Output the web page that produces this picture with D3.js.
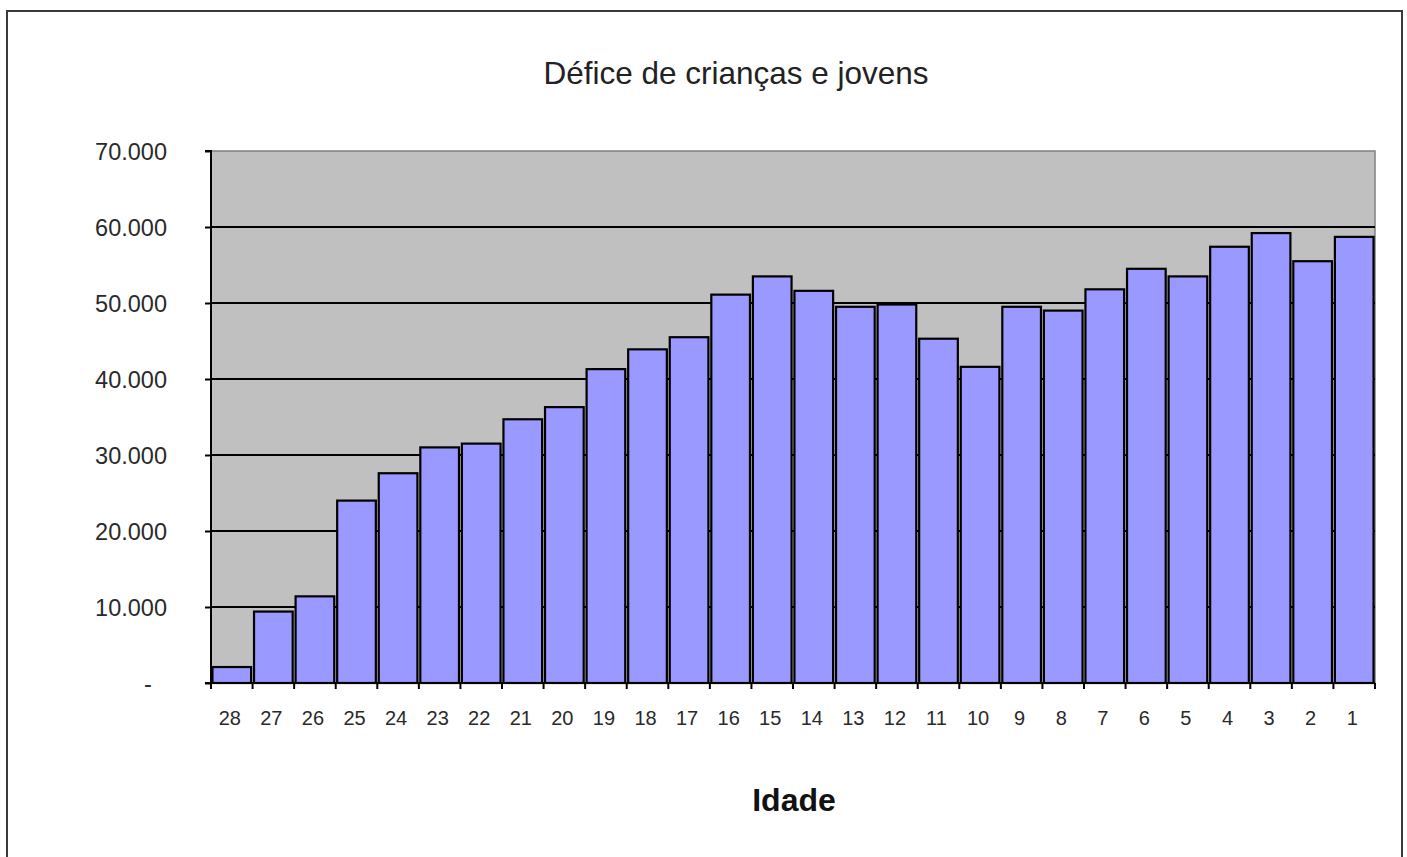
<!DOCTYPE html>
<html>
<head>
<meta charset="utf-8">
<script src="https://cdn.jsdelivr.net/npm/d3@7"></script>
<style>
  html, body { margin: 0; padding: 0; background: #fff; }
  svg { display: block; }
  text { font-family: "Liberation Sans", Arial, sans-serif; }
</style>
</head>
<body>
<svg id="chart" width="1407" height="857"></svg>
<script>
const title = "Défice de crianças e jovens";
const xTitle = "Idade";
const categories = ["28","27","26","25","24","23","22","21","20","19","18","17","16","15","14","13","12","11","10","9","8","7","6","5","4","3","2","1"];
const values = [2100, 9400, 11400, 24000, 27600, 31000, 31500, 34700, 36300, 41300, 43900, 45500, 51100, 53500, 51600, 49500, 49800, 45300, 41600, 49500, 49000, 51800, 54500, 53500, 57400, 59200, 55500, 58700];
const yTicks = [0, 10000, 20000, 30000, 40000, 50000, 60000, 70000];
const yTickLabels = ["-", "10.000", "20.000", "30.000", "40.000", "50.000", "60.000", "70.000"];

const svg = d3.select("#chart");
const plot = { left: 211, right: 1375, top: 151, bottom: 683 };

// outer frame
svg.append("rect")
  .attr("x", 7).attr("y", 11).attr("width", 1395).attr("height", 870)
  .attr("fill", "#fff").attr("stroke", "#3a3a3a").attr("stroke-width", 2);

const x = d3.scaleBand().domain(categories).range([plot.left, plot.right]).paddingInner(0.07).paddingOuter(0.035);
const xb = d3.scaleBand().domain(categories).range([plot.left, plot.right]).padding(0);
const y = d3.scaleLinear().domain([0, 70000]).range([plot.bottom, plot.top]);

// plot background
svg.append("rect")
  .attr("x", plot.left).attr("y", plot.top)
  .attr("width", plot.right - plot.left).attr("height", plot.bottom - plot.top)
  .attr("fill", "#c0c0c0");

// top/right border
svg.append("path")
  .attr("d", `M${plot.left},${y(70000)}H${plot.right}V${plot.bottom}`)
  .attr("fill", "none").attr("stroke", "#808080").attr("stroke-width", 1.5);

// gridlines
svg.append("g").selectAll("line")
  .data(yTicks.filter(t => t > 0 && t < 70000))
  .join("line")
  .attr("x1", plot.left).attr("x2", plot.right)
  .attr("y1", d => y(d)).attr("y2", d => y(d))
  .attr("stroke", "#000").attr("stroke-width", 2);

// bars
svg.append("g").selectAll("rect")
  .data(values)
  .join("rect")
  .attr("x", (d, i) => x(categories[i]))
  .attr("width", x.bandwidth())
  .attr("y", d => y(d))
  .attr("height", d => y(0) - y(d))
  .attr("fill", "#9999ff")
  .attr("stroke", "#000")
  .attr("stroke-width", 2.2);

// y axis
const yAxis = d3.axisLeft(y).tickValues(yTicks).tickSize(6).tickFormat((d, i) => yTickLabels[i]);
const gy = svg.append("g").attr("transform", `translate(${plot.left},0)`).call(yAxis);
gy.select(".domain").attr("stroke", "#000").attr("stroke-width", 2).attr("d", `M-6,${y(70000)}H0V${y(0)}`);
gy.selectAll(".tick line").attr("stroke", "#000").attr("stroke-width", 2);
gy.selectAll(".tick text")
  .attr("x", -44)
  .attr("font-size", 23.5)
  .attr("fill", "#2a2a2a")
  .attr("text-anchor", "end")
  .attr("dy", "0.35em");
gy.selectAll(".tick").filter(d => d === 0).select("text")
  .attr("x", -63).attr("text-anchor", "middle");

// x axis: ticks at band boundaries
const gx = svg.append("g");
gx.append("line")
  .attr("x1", plot.left - 6).attr("x2", plot.right)
  .attr("y1", plot.bottom).attr("y2", plot.bottom)
  .attr("stroke", "#000").attr("stroke-width", 2);
const bounds = categories.map(c => xb(c)).concat([xb(categories[categories.length - 1]) + xb.bandwidth()]);
gx.selectAll(".xt").data(bounds).join("line")
  .attr("class", "xt")
  .attr("x1", d => d).attr("x2", d => d)
  .attr("y1", plot.bottom).attr("y2", plot.bottom + 6)
  .attr("stroke", "#000").attr("stroke-width", 2);
gx.selectAll(".xl").data(categories).join("text")
  .attr("class", "xl")
  .attr("x", d => xb(d) + xb.bandwidth() / 2 - 2)
  .attr("y", 718)
  .attr("dy", "0.35em")
  .attr("text-anchor", "middle")
  .attr("font-size", 20)
  .attr("fill", "#2a2a2a")
  .text(d => d);

// title
svg.append("text")
  .attr("x", 736).attr("y", 84)
  .attr("text-anchor", "middle")
  .attr("font-size", 31.5)
  .attr("fill", "#222")
  .text(title);

// x axis title
svg.append("text")
  .attr("x", 794).attr("y", 811)
  .attr("text-anchor", "middle")
  .attr("font-size", 32)
  .attr("font-weight", "bold")
  .attr("fill", "#111")
  .text(xTitle);
</script>
</body>
</html>
